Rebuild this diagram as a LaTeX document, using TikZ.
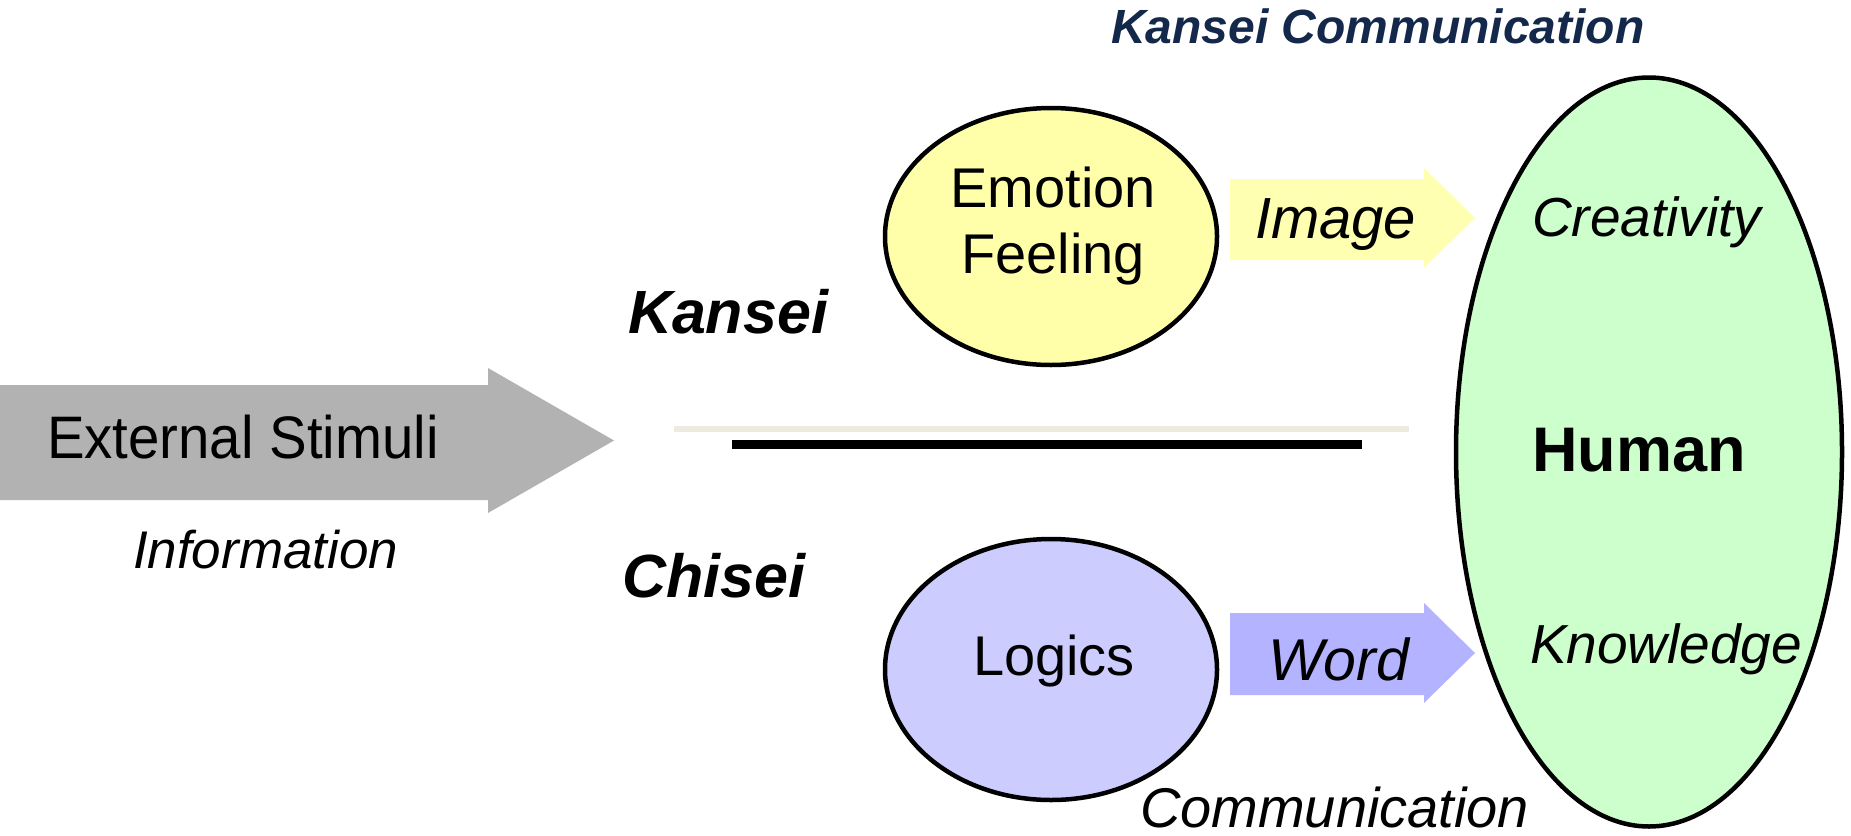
\documentclass[tikz,border=0pt]{standalone}
\usepackage{fontspec}
\setmainfont{Liberation Sans}
\usetikzlibrary{shapes.geometric}
\definecolor{stimgray}{HTML}{B2B2B2}
\definecolor{emoyellow}{HTML}{FFFFAA}
\definecolor{imgyellow}{HTML}{FFFFB2}
\definecolor{logicblue}{HTML}{CCCCFF}
\definecolor{wordblue}{HTML}{B3B3FF}
\definecolor{humangreen}{HTML}{CCFFCC}
\definecolor{dividerbeige}{HTML}{EEEADF}
\definecolor{titlenavy}{HTML}{13284A}
\newcommand{\fsz}[1]{\fontsize{#1}{#1}\selectfont}
\begin{document}
\begin{tikzpicture}[x=1pt,y=-1pt,
  lbl/.style={inner sep=0pt, outer sep=0pt, anchor=base west},
  clbl/.style={inner sep=0pt, outer sep=0pt, anchor=base},
  bubble/.style={ellipse, draw=black, line width=4.5pt, inner sep=0pt, outer sep=0pt}]
\useasboundingbox (0,0) rectangle (1851,835);

% block arrows
\fill[stimgray] (0,385) -- (488,385) -- (488,368) -- (614,440.5) -- (488,513) -- (488,500) -- (0,500) -- cycle;
\fill[imgyellow] (1230,179) -- (1424,179) -- (1424,168) -- (1475,218) -- (1424,268) -- (1424,260) -- (1230,260) -- cycle;
\fill[wordblue] (1230,613) -- (1424,613) -- (1424,603) -- (1475,653) -- (1424,703) -- (1424,695) -- (1230,695) -- cycle;

% circles
\node[bubble, fill=emoyellow, minimum width=332pt, minimum height=257pt] (emotion) at (1051,236.5) {};
\node[bubble, fill=logicblue, minimum width=332pt, minimum height=261pt] (logics) at (1051,669.5) {};
\node[bubble, fill=humangreen, minimum width=386pt, minimum height=749pt] (human) at (1649,452) {};

% divider lines
\coordinate (bl) at (674,429);
\coordinate (br) at (1409,429);
\coordinate (kl) at (732,444);
\coordinate (kr) at (1362,444);
\draw[dividerbeige, line width=6pt] (bl) -- (br);
\draw[black, line width=9pt] (kl) -- (kr);

% labels
\node[lbl] (stim) at (47,458) {\fsz{60}\scalebox{0.94}[1]{External Stimuli}};
\node[lbl] (info) at (133,568) {\fsz{53}\itshape Information};
\node[lbl] (kansei) at (628,333) {\fsz{61}\bfseries\itshape Kansei};
\node[lbl] (chisei) at (622,597) {\fsz{61}\bfseries\itshape Chisei};
\node[clbl] (emo1) at (1053,207) {\fsz{56}Emotion};
\node[clbl] (emo2) at (1053,273) {\fsz{56}Feeling};
\node[clbl] (logtxt) at (1054,675) {\fsz{56}Logics};
\node[lbl] (image) at (1255,238) {\fsz{58}\itshape Image};
\node[lbl] (word) at (1268,680) {\fsz{59}\itshape Word};
\node[lbl] (creat) at (1532,236) {\fsz{55}\itshape Creativity};
\node[lbl] (hum) at (1532,471) {\fsz{63}\bfseries Human};
\node[lbl] (know) at (1530,663) {\fsz{55}\itshape Knowledge};
\node[lbl, text=titlenavy] (kcomm) at (1111,43) {\fsz{48}\bfseries\itshape Kansei Communication};
\node[lbl] (comm) at (1140,827) {\fsz{56}\itshape Communication};
\end{tikzpicture}
\end{document}
